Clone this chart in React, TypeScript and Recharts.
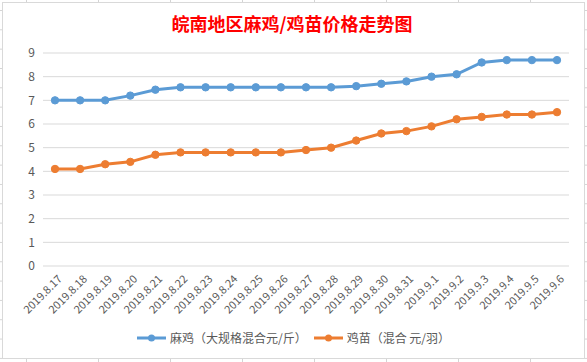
import React from 'react';
import { LineChart, Line, XAxis, YAxis, CartesianGrid, Legend } from 'recharts';

const dates = [
  '2019.8.17', '2019.8.18', '2019.8.19', '2019.8.20', '2019.8.21', '2019.8.22', '2019.8.23',
  '2019.8.24', '2019.8.25', '2019.8.26', '2019.8.27', '2019.8.28', '2019.8.29', '2019.8.30',
  '2019.8.31', '2019.9.1', '2019.9.2', '2019.9.3', '2019.9.4', '2019.9.5', '2019.9.6',
];
const maJi = [7, 7, 7, 7.2, 7.45, 7.55, 7.55, 7.55, 7.55, 7.55, 7.55, 7.55, 7.6, 7.7, 7.8, 8.0, 8.1, 8.6, 8.7, 8.7, 8.7];
const jiMiao = [4.1, 4.1, 4.3, 4.4, 4.7, 4.8, 4.8, 4.8, 4.8, 4.8, 4.9, 5.0, 5.3, 5.6, 5.7, 5.9, 6.2, 6.3, 6.4, 6.4, 6.5];
const yTicks = [0, 1, 2, 3, 4, 5, 6, 7, 8, 9];
const title = '皖南地区麻鸡/鸡苗价格走势图';
const nameMaJi = '麻鸡（大规格混合元/斤）';
const nameJiMiao = '鸡苗（混合 元/羽）';
const legendOrder = [nameMaJi, nameJiMiao];

const data = dates.map((d, i) => ({ date: d, maJi: maJi[i], jiMiao: jiMiao[i] }));

const BLUE = '#5b9bd5';
const ORANGE = '#ed7d31';
const TEXT = '#595959';
const FONT = '"Noto Sans CJK SC", "Noto Sans", sans-serif';

const XTick = (props: any) => {
  const { x, y, payload } = props;
  return (
    <g transform={`translate(${x + 5},${y + 3})`}>
      <text
        x={0}
        y={0}
        transform="rotate(-45)"
        textAnchor="end"
        dy="0.35em"
        fill={TEXT}
        fontSize={11}
        fontFamily={FONT}
      >
        {payload.value}
      </text>
    </g>
  );
};

const LegendContent = (props: any) => {
  const items = [...(props.payload || [])].sort(
    (a: any, b: any) => legendOrder.indexOf(a.value) - legendOrder.indexOf(b.value)
  );
  return (
    <div
      style={{
        display: 'flex',
        justifyContent: 'center',
        alignItems: 'center',
        fontFamily: FONT,
        fontSize: 12,
        color: TEXT,
        gap: 7,
      }}
    >
      {items.map((it: any) => (
        <div key={it.value} style={{ display: 'flex', alignItems: 'center' }}>
          <svg width={29} height={10} style={{ marginRight: 4 }}>
            <line x1={0} y1={5} x2={29} y2={5} stroke={it.color} strokeWidth={3} />
            <circle cx={14.5} cy={5} r={3.5} fill={it.color} />
          </svg>
          <span style={{ lineHeight: '14px' }}>{it.value}</span>
        </div>
      ))}
    </div>
  );
};

export default function App() {
  return (
    <div
      style={{
        position: 'absolute',
        left: 0,
        top: 0,
        width: 587,
        height: 362,
        background: '#ffffff',
        backgroundImage:
          'linear-gradient(to right, #d4d4d4 1px, transparent 1px), linear-gradient(to bottom, #d4d4d4 1px, transparent 1px)',
        backgroundSize: '72px 19.33px',
        backgroundPosition: '26px 10px',
        overflow: 'hidden',
      }}
    >
      <div
        style={{
          position: 'absolute',
          left: 2,
          top: 2,
          width: 581,
          height: 355,
          background: '#ffffff',
          border: '1px solid #d9d9d9',
        }}
      />
      <div style={{ position: 'absolute', left: 0, top: 0 }}>
        <LineChart
          width={587}
          height={362}
          data={data}
          margin={{ top: 53, right: 18, bottom: 22, left: 0 }}
        >
          <text
            x={292}
            y={23}
            textAnchor="middle"
            dominantBaseline="central"
            fill="#ff0000"
            fontSize={18}
            fontWeight="bold"
            fontFamily={FONT}
          >
            {title}
          </text>
          <CartesianGrid vertical={false} stroke="#d9d9d9" strokeWidth={1} />
          <XAxis
            dataKey="date"
            axisLine={false}
            tickLine={false}
            interval={0}
            tick={<XTick />}
            height={60}
            padding={{ left: 12, right: 12 }}
          />
          <YAxis
            domain={[0, 9]}
            ticks={yTicks}
            interval={0}
            axisLine={false}
            tickLine={false}
            width={43}
            tick={{ fill: TEXT, fontSize: 12, fontFamily: FONT }}
          />
          <Line
            type="linear"
            dataKey="maJi"
            name={nameMaJi}
            stroke={BLUE}
            strokeWidth={3}
            dot={{ r: 3.7, fill: BLUE, stroke: BLUE, strokeWidth: 1 }}
            activeDot={false}
            isAnimationActive={false}
          />
          <Line
            type="linear"
            dataKey="jiMiao"
            name={nameJiMiao}
            stroke={ORANGE}
            strokeWidth={3}
            dot={{ r: 3.7, fill: ORANGE, stroke: ORANGE, strokeWidth: 1 }}
            activeDot={false}
            isAnimationActive={false}
          />
          <Legend
            content={<LegendContent />}
            wrapperStyle={{ position: 'absolute', top: 331, left: 0, width: 587 }}
          />
        </LineChart>
      </div>
    </div>
  );
}
